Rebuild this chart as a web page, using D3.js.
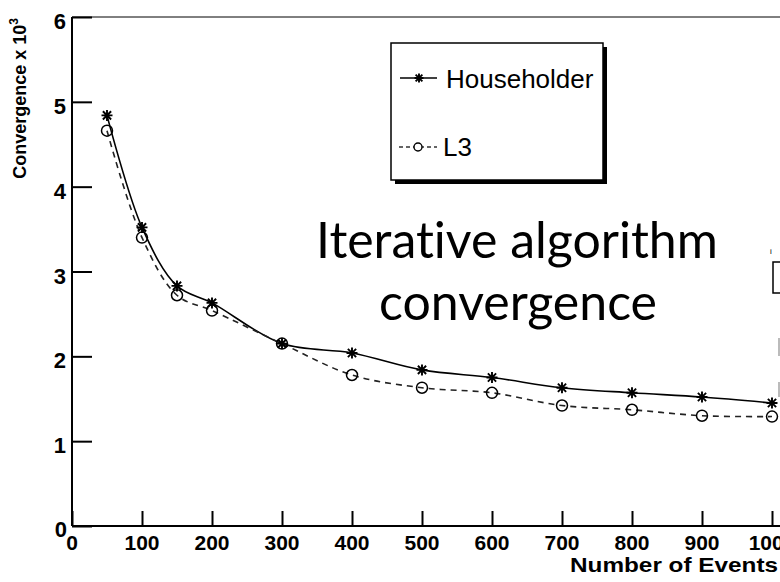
<!DOCTYPE html>
<html>
<head>
<meta charset="utf-8">
<script src="https://cdn.jsdelivr.net/npm/d3@7"></script>
<style>
  body { margin: 0; background: #fff; }
  svg { display: block; }
</style>
</head>
<body>
<svg></svg>
<script>
// convergence of the two iterative algorithms vs number of events

var events = [50, 100, 150, 200, 300, 400, 500, 600, 700, 800, 900, 1000];
var householder = [4.84, 3.52, 2.83, 2.63, 2.15, 2.04, 1.84, 1.75, 1.63, 1.57, 1.52, 1.45];
var l3 = [4.66, 3.40, 2.72, 2.54, 2.15, 1.78, 1.63, 1.57, 1.42, 1.37, 1.30, 1.29];
var xTicks = [0, 100, 200, 300, 400, 500, 600, 700, 800, 900, 1000];
var yTicks = [0, 1, 2, 3, 4, 5, 6];
var seriesNames = ["Householder", "L3"];

const W = 780, H = 582;
const plotLeft = 72, plotBottom = 526, plotTop = 17;

var svg = d3.select("svg").attr("width", W).attr("height", H);

var x = d3.scaleLinear().domain([0, 1000]).range([plotLeft, plotLeft + 700]);
var y = d3.scaleLinear().domain([0, 6]).range([plotBottom, plotTop]);

var labelFont = "'Liberation Sans', Arial, sans-serif";

// frame: top line
svg.append("line").attr("x1", plotLeft).attr("x2", W).attr("y1", y(6)).attr("y2", y(6))
    .attr("stroke", "#000").attr("stroke-width", 1);

// y axis, ticks pointing right
var yAxis = d3.axisRight(y).tickValues(yTicks).tickSize(20).tickFormat("");
var yG = svg.append("g").attr("transform", "translate(" + plotLeft + ",0)").call(yAxis);
yG.select(".domain").attr("stroke-width", 2).attr("d", "M0," + y(6) + "V" + plotBottom);
yG.selectAll(".tick line").attr("stroke-width", 2);

// x axis, ticks pointing up
var xAxis = d3.axisTop(x).tickValues(xTicks).tickSize(15).tickFormat("");
var xG = svg.append("g").attr("transform", "translate(0," + plotBottom + ")").call(xAxis);
xG.select(".domain").attr("stroke-width", 2).attr("d", "M" + plotLeft + ",0H" + W);
xG.selectAll(".tick line").attr("stroke-width", 2);

// tick labels
svg.selectAll(".ylab").data(yTicks).enter().append("text")
    .attr("class", "ylab")
    .attr("x", d => d === 0 ? 67 : 66)
    .attr("y", d => y(d) + (d === 0 ? 11 : 12))
    .attr("text-anchor", "end")
    .attr("font-family", labelFont).attr("font-weight", "bold").attr("font-size", 22)
    .text(d => d);

svg.selectAll(".xlab").data(xTicks).enter().append("text")
    .attr("class", "xlab")
    .attr("x", d => x(d))
    .attr("y", 550)
    .attr("text-anchor", "middle")
    .attr("font-family", labelFont).attr("font-weight", "bold").attr("font-size", 21)
    .text(d => d);

// axis titles
svg.append("text")
    .attr("x", 778).attr("y", 572)
    .attr("text-anchor", "end")
    .attr("textLength", 208).attr("lengthAdjust", "spacingAndGlyphs")
    .attr("font-family", labelFont).attr("font-weight", "bold").attr("font-size", 21)
    .text("Number of Events");

var yt = svg.append("text")
    .attr("transform", "translate(26,18) rotate(-90)")
    .attr("text-anchor", "end")
    .attr("font-family", labelFont).attr("font-weight", "bold").attr("font-size", 18);
yt.append("tspan").text("Convergence x 10");
yt.append("tspan").attr("font-size", 12).attr("dy", -8).text("3");

// curves
var line = d3.line()
    .x(d => x(d[0]))
    .y(d => y(d[1]))
    .curve(d3.curveCatmullRom.alpha(0.5));

var hData = events.map((e, i) => [e, householder[i]]);
var lData = events.map((e, i) => [e, l3[i]]);

svg.append("path").datum(hData).attr("d", line)
    .attr("fill", "none").attr("stroke", "#000").attr("stroke-width", 1.6);
svg.append("path").datum(lData).attr("d", line)
    .attr("fill", "none").attr("stroke", "#222").attr("stroke-width", 1.6)
    .attr("stroke-dasharray", "6,5");

function star(g, cx, cy, r) {
  var p = "M" + (cx - r) + "," + cy + "H" + (cx + r) +
          "M" + cx + "," + (cy - r) + "V" + (cy + r) +
          "M" + (cx - r * 0.75) + "," + (cy - r * 0.75) + "L" + (cx + r * 0.75) + "," + (cy + r * 0.75) +
          "M" + (cx - r * 0.75) + "," + (cy + r * 0.75) + "L" + (cx + r * 0.75) + "," + (cy - r * 0.75);
  g.append("path").attr("d", p).attr("stroke", "#000").attr("stroke-width", 1.9).attr("fill", "none");
}

var mk = svg.append("g");
hData.forEach(d => star(mk, x(d[0]), y(d[1]), 5.5));
mk.selectAll("circle").data(lData).enter().append("circle")
    .attr("cx", d => x(d[0])).attr("cy", d => y(d[1])).attr("r", 5.5)
    .attr("fill", "none").attr("stroke", "#000").attr("stroke-width", 1.5);

// legend box with shadow
var lg = svg.append("g");
lg.append("rect").attr("x", 395).attr("y", 47).attr("width", 212).attr("height", 137).attr("fill", "#000");
lg.append("rect").attr("x", 391).attr("y", 43).attr("width", 212).attr("height", 137)
    .attr("fill", "#fff").attr("stroke", "#000").attr("stroke-width", 1.5);

lg.append("line").attr("x1", 400).attr("x2", 437).attr("y1", 78).attr("y2", 78)
    .attr("stroke", "#000").attr("stroke-width", 1.6);
star(lg, 419, 78, 4.5);
lg.append("text").attr("x", 446).attr("y", 88)
    .attr("font-family", labelFont).attr("font-size", 26).text(seriesNames[0]);

lg.append("line").attr("x1", 399).attr("x2", 437).attr("y1", 147).attr("y2", 147)
    .attr("stroke", "#333").attr("stroke-width", 1.4).attr("stroke-dasharray", "4,3");
lg.append("circle").attr("cx", 418).attr("cy", 147).attr("r", 4)
    .attr("fill", "#fff").attr("stroke", "#000").attr("stroke-width", 1.4);
lg.append("text").attr("x", 443).attr("y", 156)
    .attr("font-family", labelFont).attr("font-size", 26).text(seriesNames[1]);

// overlay title
var title = svg.append("g").attr("font-family", "'Lato', 'Open Sans', sans-serif").attr("font-size", 50)
    .attr("text-anchor", "middle").attr("fill", "#000")
    .style("font-variant-ligatures", "none");
title.append("text").attr("x", 517).attr("y", 258).text("Iterative algorithm");
title.append("text").attr("x", 518).attr("y", 320).text("convergence");

// fragments of another overlay at right edge
svg.append("text").attr("x", 770).attr("y", 254).attr("font-family", labelFont).attr("font-size", 8).text("i");
svg.append("rect").attr("x", 773).attr("y", 262).attr("width", 20).attr("height", 31)
    .attr("fill", "none").attr("stroke", "#000").attr("stroke-width", 1.5);
svg.append("line").attr("x1", 779).attr("x2", 779).attr("y1", 338).attr("y2", 356).attr("stroke", "#bbb").attr("stroke-width", 2);
svg.append("line").attr("x1", 779).attr("x2", 779).attr("y1", 382).attr("y2", 397).attr("stroke", "#bbb").attr("stroke-width", 2);
</script>
</body>
</html>
